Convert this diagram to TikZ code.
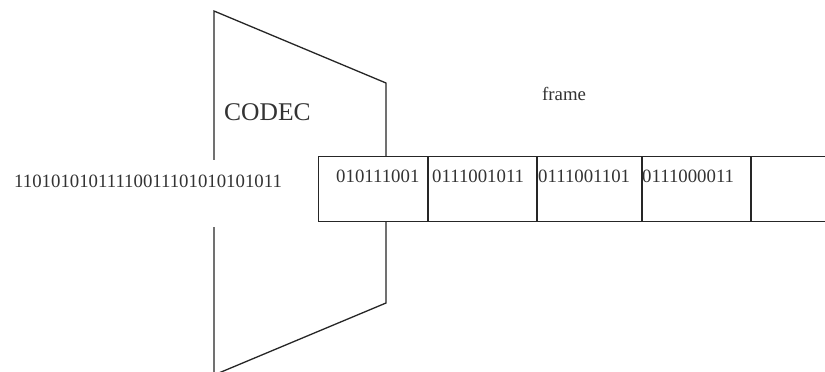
\documentclass[tikz,border=0pt]{standalone}
\usepackage{fontspec}
\setmainfont{Liberation Serif}
\begin{document}
\begin{tikzpicture}[x=1pt,y=-1pt,
  outline/.style={line width=1.3pt,black!85},
  cellbox/.style={draw=black!85,line width=1pt,fill=white,rectangle,
    minimum height=65pt,inner sep=0pt,anchor=north west},
  bitlabel/.style={anchor=base west,inner sep=0pt,font=\fontsize{18.8}{21}\selectfont,text=black!80},
  mask/.style={fill=white,draw=none,rectangle,inner sep=0pt,anchor=north west}]
\useasboundingbox (0,0) rectangle (825,372);
\fill[white] (0,0) rectangle (825,372);

% codec outline (trapezoid, open at the bottom edge)
\coordinate (ctl) at (214,11);
\coordinate (ctr) at (386,83);
\coordinate (cbr) at (386,303);
\coordinate (cbl) at (214,375);
\draw[outline,line join=miter] (cbl) -- (ctl) -- (ctr) -- (cbr) -- (cbl);

% input bit stream on a white band
\node[mask,minimum width=290pt,minimum height=67pt] (inband) at (4,160) {};
\node[bitlabel] (instream) at (14,187) {11010101011110011101010101011};

% output frame cells
\node[cellbox,minimum width=109pt] (c1) at (318,156) {};
\node[cellbox,minimum width=108pt] (c2) at (c1.north east) {};
\node[cellbox,minimum width=104pt] (c3) at (c2.north east) {};
\node[cellbox,minimum width=108pt] (c4) at (c3.north east) {};
\node[cellbox,minimum width=120pt] (c5) at (c4.north east) {};

\node[bitlabel] (b1) at (336,182) {010111001};
\node[bitlabel] (b2) at (432,182) {0111001011};
\node[bitlabel] (b3) at (538,182) {0111001101};
\node[bitlabel] (b4) at (642,182) {0111000011};

% labels
\node[anchor=base west,inner sep=0pt,font=\fontsize{25.5}{28}\selectfont,text=black!80] (codec) at (224,120) {CODEC};
\node[bitlabel] (framelbl) at (542,100) {frame};
\end{tikzpicture}
\end{document}
